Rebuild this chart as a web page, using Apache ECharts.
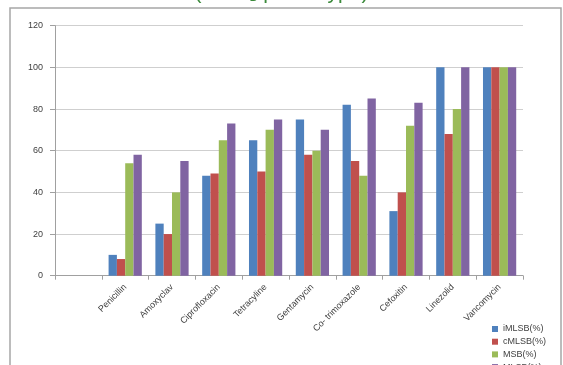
<!DOCTYPE html>
<html>
<head>
<meta charset="utf-8">
<script src="https://cdn.jsdelivr.net/npm/echarts@6/dist/echarts.min.js"></script>
<style>
  html, body { margin: 0; padding: 0; background: #fff; }
  #chart { width: 563px; height: 365px; }
</style>
</head>
<body>
<div id="chart"></div>
<script>
// first slot is an empty category, as in the original sheet
const categories = ['', 'Penicillin', 'Amoxyclav', 'Ciprofloxacin', 'Tetracyline', 'Gentamycin',
  'Co- trimoxazole', 'Cefoxitin', 'Linezolid', 'Vancomycin']
const iMLSB = [null, 10, 25, 48, 65, 75, 82, 31, 100, 100]
const cMLSB = [null, 8, 20, 49, 50, 58, 55, 40, 68, 100]
const MSB = [null, 54, 40, 65, 70, 60, 48, 72, 80, 100]
const MLSB = [null, 58, 55, 73, 75, 70, 85, 83, 100, 100]
const seriesNames = ['iMLSB(%)', 'cMLSB(%)', 'MSB(%)', 'MLSB(%)']
const colors = ['#4F81BD', '#C0504D', '#9BBB59', '#8064A2']

const font = 'Liberation Sans'
const chart = echarts.init(document.getElementById('chart'))

function bar(name, data, color) {
  return {
    name,
    type: 'bar',
    data,
    barGap: '0%',
    barCategoryGap: '29%',
    itemStyle: { color },
    emphasis: { disabled: true },
  }
}

chart.setOption({
  animation: false,
  color: colors,
  title: {
    left: 'center',
    top: -22,
    text: '{a|(iMLS}{s|B}{a| phenotype)}',
    textStyle: {
      fontWeight: 'normal',
      rich: {
        a: { fontFamily: font, fontSize: 21, fontWeight: 'normal', color: '#3B8A3B' },
        s: { fontFamily: font, fontSize: 12, fontWeight: 'normal', color: '#3B8A3B', verticalAlign: 'bottom', padding: [8, 0, 0, 0] },
      },
    },
  },
  graphic: [
    {
      type: 'rect',
      shape: { x: 10, y: 8, width: 551, height: 370 },
      style: { fill: 'none', stroke: '#A6A6A6', lineWidth: 1.5 },
      silent: true,
    },
  ],
  legend: {
    orient: 'vertical',
    left: 487,
    top: 319,
    height: 80,
    itemWidth: 6,
    itemHeight: 6,
    itemGap: 2.7,
    icon: 'rect',
    data: seriesNames,
    textStyle: { fontFamily: font, fontSize: 9, color: '#404040', lineHeight: 10 },
  },
  grid: { left: 55, right: 40, top: 25.7, bottom: 89.3 },
  xAxis: {
    type: 'category',
    data: categories,
    axisLine: { lineStyle: { color: '#A0A0A0' } },
    axisTick: { show: true, length: 4, lineStyle: { color: '#A0A0A0' } },
    axisLabel: { rotate: 45, interval: 0, margin: 10, fontFamily: font, fontSize: 9, color: '#404040' },
  },
  yAxis: {
    type: 'value',
    min: 0,
    max: 120,
    interval: 20,
    axisLine: { show: true, lineStyle: { color: '#A0A0A0' } },
    axisTick: { show: true, length: 5, lineStyle: { color: '#A0A0A0' } },
    splitLine: { lineStyle: { color: '#CFCFCF' } },
    axisLabel: { margin: 12, fontFamily: font, fontSize: 9, color: '#404040' },
  },
  series: [
    bar(seriesNames[0], iMLSB, colors[0]),
    bar(seriesNames[1], cMLSB, colors[1]),
    bar(seriesNames[2], MSB, colors[2]),
    bar(seriesNames[3], MLSB, colors[3]),
  ],
})
</script>
</body>
</html>
